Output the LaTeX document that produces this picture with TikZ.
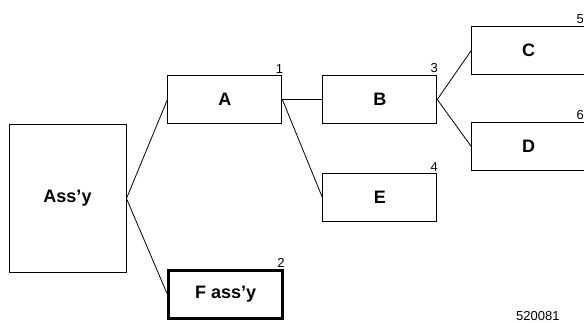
\documentclass[tikz,border=0pt]{standalone}
\usepackage{fontspec}
\setmainfont{Liberation Sans}
\usetikzlibrary{positioning}

\begin{document}
\begin{tikzpicture}
  [
    x=1pt,y=1pt,
    font=\fontsize{18}{20}\selectfont\bfseries,
    node distance=40pt,
    part/.style={
      rectangle,
      draw,
      line width=0.9pt,
      inner sep=0pt,
      minimum height=48pt,minimum width=114pt,
      align=center
    },
    top/.style={part,minimum height=148pt,minimum width=117pt},
    sub/.style={part,line width=2.6pt},
    num/.style={font=\fontsize{13}{15}\selectfont,anchor=south east,inner sep=1pt,label distance=2pt},
    edge num/.style={num,xshift=-3pt},
    link/.style={line width=0.8pt},
  ]
  \useasboundingbox (0,0) rectangle (584,-322);

  \node[top]                                    (assy) at (67.5,-198.5) {Ass’y};
  \node[part,right=41pt of assy,yshift=99pt,label={[num]north east:1}]  (a) {A};
  \node[sub,right=41pt of assy,yshift=-96pt,label={[num]north east:2}]  (f) {F ass’y};
  \node[part,right=of a,label={[num]north east:3}]                      (b) {B};
  \node[part,right=of a,yshift=-98pt,label={[num]north east:4}]         (e) {E};
  \node[part,right=34pt of b,yshift=49pt,label={[edge num]north east:5}]  (c) {C};
  \node[part,right=34pt of b,yshift=-47pt,label={[edge num]north east:6}] (d) {D};

  % drawing number at the bottom edge
  \node[num,anchor=south west] (ref) at (515,-322) {520081};

  \draw[link] (assy.east) -- (a.west);
  \draw[link] (assy.east) -- (f.west);
  \draw[link] (a.east) -- (b.west);
  \draw[link] (a.east) -- (e.west);
  \draw[link] (b.east) -- (c.west);
  \draw[link] (b.east) -- (d.west);
\end{tikzpicture}
\end{document}
